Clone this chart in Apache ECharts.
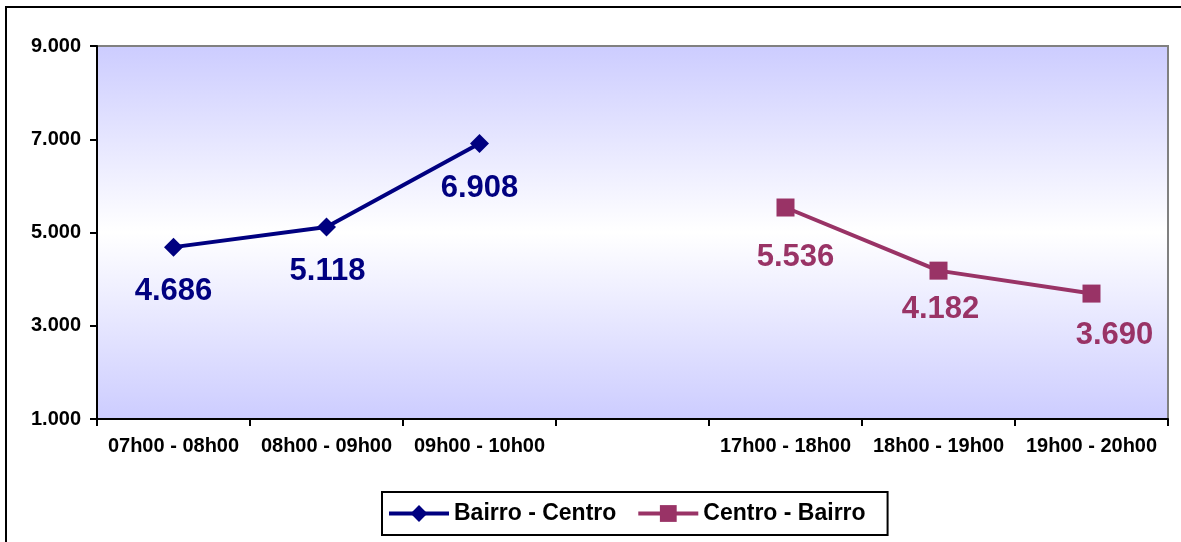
<!DOCTYPE html>
<html><head><meta charset="utf-8">
<script src="https://cdn.jsdelivr.net/npm/echarts@6/dist/echarts.min.js"></script>
<style>html,body{margin:0;padding:0;background:#fff;}#c{width:1181px;height:542px;}</style>
</head><body><div id="c"></div>
<script>
var categories = ['07h00 - 08h00','08h00 - 09h00','09h00 - 10h00','','17h00 - 18h00','18h00 - 19h00','19h00 - 20h00'];
var bairroCentro = [4686, 5118, 6908, null, null, null, null];
var centroBairro = [null, null, null, null, 5536, 4182, 3690];
var yTicks = {min: 1000, max: 9000, interval: 2000};

// label offsets (style only)
var off1 = [[0,0],[1,0],[0,1],null,null,null,null];
var off2 = [null,null,null,null,[10,6],[2,-5],[23,-2]];

function fmt(v){ return (v/1000).toFixed(3); }
function build(vals, offs){
  return vals.map(function(v,i){
    if (v === null) return null;
    return {value: v, label: {offset: offs[i]}};
  });
}
var font = '"Liberation Sans", Arial, sans-serif';
var chart = echarts.init(document.getElementById('c'));
chart.setOption({
  animation: false,
  graphic: [{type:'rect', shape:{x:6,y:7,width:1300,height:700}, style:{fill:'none', stroke:'#000', lineWidth:2}, silent:true}],
  grid: {left: 97, top: 46, right: 13, bottom: 123, show: true, borderColor: '#808080', borderWidth: 2,
    backgroundColor: new echarts.graphic.LinearGradient(0,0,0,1,[{offset:0,color:'#ccccff'},{offset:0.5,color:'#ffffff'},{offset:1,color:'#ccccff'}])},
  legend: {
    left: 382, top: 492, padding: [10, 22, 10, 5], itemGap: 20,
    borderColor: '#000', borderWidth: 2, backgroundColor: '#fff',
    itemWidth: 60, itemHeight: 21,
    lineStyle: {width: 4},
    textStyle: {fontFamily: font, fontWeight: 'bold', fontSize: 23, color: '#000'},
    data: ['Bairro - Centro', 'Centro - Bairro']
  },
  xAxis: {
    type: 'category', data: categories, boundaryGap: true,
    axisLine: {lineStyle: {color: '#000', width: 2}},
    axisTick: {show: true, length: 7, lineStyle: {color: '#000', width: 2}},
    axisLabel: {interval: 0, margin: 17, fontFamily: font, fontWeight: 'bold', fontSize: 20, color: '#000'},
    splitLine: {show: false}
  },
  yAxis: {
    type: 'value', min: yTicks.min, max: yTicks.max, interval: yTicks.interval,
    axisLine: {show: true, lineStyle: {color: '#000', width: 2}},
    axisTick: {show: true, length: 7, lineStyle: {color: '#000', width: 2}},
    axisLabel: {margin: 16, fontFamily: font, fontWeight: 'bold', fontSize: 20, color: '#000', formatter: fmt},
    splitLine: {show: false}
  },
  series: [
    {name: 'Bairro - Centro', type: 'line', data: build(bairroCentro, off1), connectNulls: false,
     symbol: 'diamond', symbolSize: 19, itemStyle: {color: '#000080'}, lineStyle: {color: '#000080', width: 4},
     label: {show: true, position: 'bottom', distance: 19, formatter: function(p){return fmt(p.value);},
       fontFamily: font, fontWeight: 'bold', fontSize: 31, color: '#000080'}},
    {name: 'Centro - Bairro', type: 'line', data: build(centroBairro, off2), connectNulls: false,
     symbol: 'rect', symbolSize: 18, itemStyle: {color: '#993366'}, lineStyle: {color: '#993366', width: 4},
     label: {show: true, position: 'bottom', distance: 19, formatter: function(p){return fmt(p.value);},
       fontFamily: font, fontWeight: 'bold', fontSize: 31, color: '#993366'}}
  ]
});
</script></body></html>
